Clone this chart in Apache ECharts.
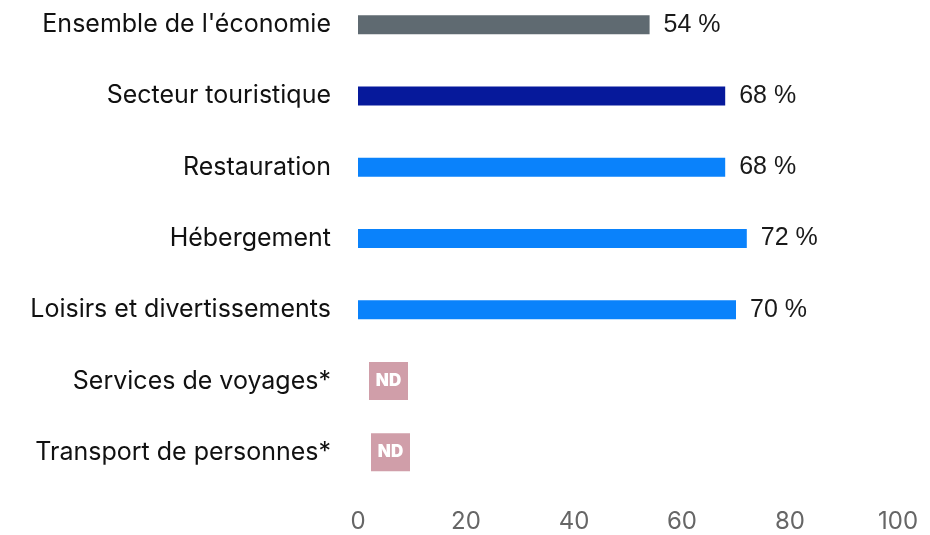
<!DOCTYPE html>
<html>
<head>
<meta charset="utf-8">
<script src="https://cdn.jsdelivr.net/npm/echarts@6/dist/echarts.min.js"></script>
<style>
  html, body { margin: 0; padding: 0; background: #fff; }
  #grafico { width: 930px; height: 535px; }
</style>
</head>
<body>
<div id="grafico"></div>
<script>
var categories = ["Ensemble de l'économie", "Secteur touristique", "Restauration", "Hébergement",
    "Loisirs et divertissements", "Services de voyages*", "Transport de personnes*"];
var values = [54, 68, 68, 72, 70, null, null];
var colors = ['#5f6a71', '#06199b', '#0a82fb', '#0a82fb', '#0a82fb', '#0a82fb', '#0a82fb'];
var xTicks = [0, 20, 40, 60, 80, 100];

var dados = [];
values.forEach(function (v, i) {
    if (v === null) {
        // pas de donnée : petite étiquette "ND"
        dados.push({
            value: 0,
            itemStyle: { color: 'transparent' },
            label: {
                show: true,
                position: 'right',
                distance: 30.5 + (i == 6 ? 2 : 0),
                formatter: 'ND',
                color: '#fff',
                fontFamily: 'Inter',
                fontWeight: 900,
                fontSize: 17,
                backgroundColor: '#d09ea9',
                width: 39,
                height: 38,
                lineHeight: 38,
                align: 'center',
                padding: 0
            }
        });
    } else {
        dados.push({ value: v, itemStyle: { color: colors[i] } });
    }
});

var myChart = echarts.init(document.getElementById('grafico'));

var option = {
    animation: false,
    grid: { left: 358, right: 32, top: -11, bottom: 47, outerBoundsMode: 'none', containLabel: false },
    xAxis: {
        type: 'value',
        min: 0,
        max: 100,
        interval: 20,
        axisLine: { show: false },
        axisTick: { show: false },
        splitLine: { show: false },
        axisLabel: {
            color: '#666',
            fontFamily: 'Inter',
            fontSize: 24,
            margin: 22,
            formatter: function (v) { return xTicks.indexOf(v) >= 0 ? String(v) : ''; }
        }
    },
    yAxis: {
        type: 'category',
        inverse: true,
        data: categories,
        axisLine: { show: false },
        axisTick: { show: false },
        axisLabel: {
            color: '#111',
            fontFamily: 'Inter',
            fontSize: 25,
            margin: 27
        }
    },
    series: [{
        type: 'bar',
        barWidth: 19,
        data: dados,
        label: {
            show: true,
            position: 'right',
            distance: 14,
            color: '#1a1a1a',
            fontFamily: 'Liberation Sans',
            fontSize: 25,
            formatter: function (p) { return p.value + ' %'; }
        }
    }]
};

myChart.setOption(option);
</script>
</body>
</html>
